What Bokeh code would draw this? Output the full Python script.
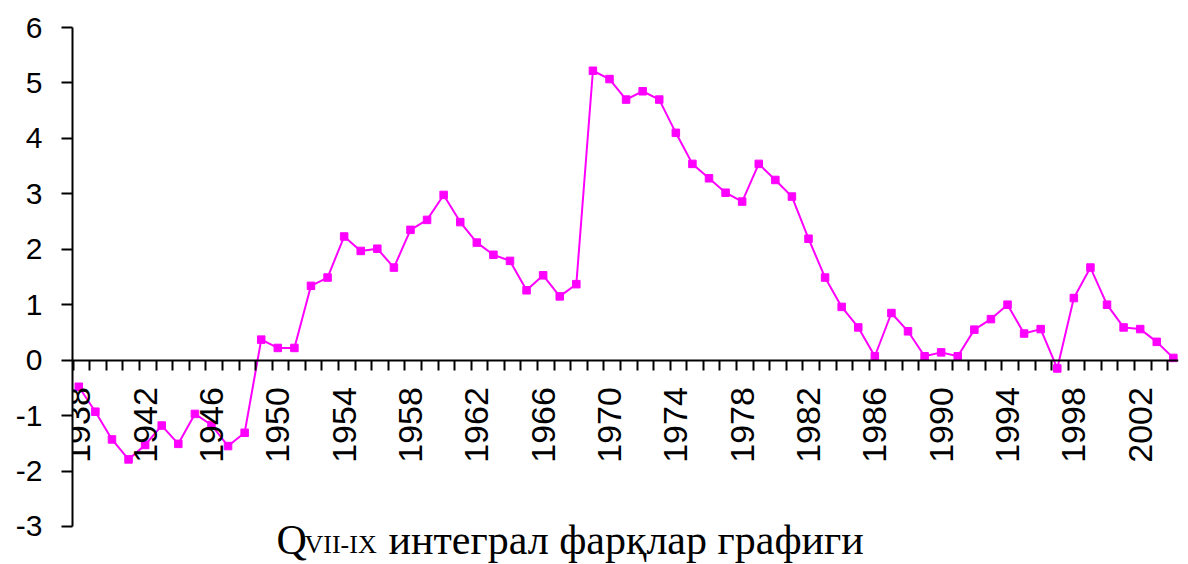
import math
from bokeh.plotting import figure
from bokeh.models import FixedTicker, Range1d, Label, ColumnDataSource
from bokeh.embed import file_html
from bokeh.resources import INLINE

# ---- data ----
years = list(range(1938, 2005))
values = [-0.48, -0.93, -1.43, -1.79, -1.53, -1.18, -1.51, -0.97, -1.17, -1.55, -1.31,
          0.37, 0.22, 0.22, 1.34, 1.49, 2.23, 1.97, 2.01, 1.67, 2.35, 2.53, 2.98, 2.49,
          2.12, 1.90, 1.79, 1.26, 1.53, 1.15, 1.37,
          5.22, 5.07, 4.70, 4.85, 4.70, 4.10, 3.54, 3.28, 3.02, 2.86, 3.54, 3.25, 2.95,
          2.19, 1.49, 0.96, 0.59, 0.07,
          0.85, 0.52, 0.07, 0.14, 0.07, 0.55, 0.74, 1.00, 0.48, 0.56, -0.15, 1.12, 1.67,
          1.00, 0.59, 0.56, 0.33, 0.04]
label_years = list(range(1938, 2004, 4))
y_ticks = [-3, -2, -1, 0, 1, 2, 3, 4, 5, 6]
y_tick_labels = {t: str(t) for t in y_ticks}   # plain hyphen as in the original
title_q = "Q"
title_sub = "VII-IX"
title_rest = "интеграл фарқлар графиги"

# ---- layout constants ----
W, H = 1188, 564
FL, FR, FT, FB = 72, 10, 27, 0          # frame borders (canvas px)
fw = W - FL - FR
fh = H - FT - FB
X0 = years[0] - 0.38
X1 = years[-1] + 0.31
Y1 = y_ticks[-1]
ppu = 55.44                              # pixels per y unit
Y0 = Y1 - fh / ppu                       # extra room below -3 for the caption

def dx(canvas_px):
    return X0 + (canvas_px - FL) / fw * (X1 - X0)

def dy(canvas_py):
    return Y1 - (canvas_py - FT) / ppu

p = figure(width=W, height=H, output_backend="svg", toolbar_location=None,
           x_range=Range1d(X0, X1), y_range=Range1d(Y0, Y1),
           min_border_left=FL, min_border_right=FR, min_border_top=FT,
           min_border_bottom=FB)
p.outline_line_color = None
p.xgrid.grid_line_color = None
p.ygrid.grid_line_color = None
p.background_fill_color = "white"
p.border_fill_color = "white"

src = ColumnDataSource(dict(x=years, y=values))
p.line("x", "y", source=src, line_color="#FF00FF", line_width=2)
p.scatter("x", "y", source=src, marker="square", size=7.5,
          fill_color="#FF00FF", line_color="#FF00FF")

# x axis at y = 0
xa = p.xaxis[0]
xa.fixed_location = 0
xa.ticker = FixedTicker(ticks=label_years, minor_ticks=[y - 0.34 for y in years])
xa.major_tick_out = 0
xa.major_tick_in = 0
xa.minor_tick_out = 10
xa.minor_tick_in = 0
xa.minor_tick_line_color = "black"
xa.minor_tick_line_width = 2
xa.axis_line_color = "black"
xa.axis_line_width = 2
xa.major_label_orientation = math.pi / 2
xa.major_label_text_font = "Liberation Sans"
xa.major_label_text_font_size = "34px"
xa.major_label_text_color = "black"
xa.major_label_standoff = 17

ya = p.yaxis[0]
ya.ticker = FixedTicker(ticks=y_ticks)
ya.major_label_overrides = y_tick_labels
ya.bounds = (y_ticks[0], y_ticks[-1])
ya.major_tick_out = 11
ya.major_tick_in = 0
ya.major_tick_line_width = 2
ya.major_tick_line_color = "black"
ya.minor_tick_line_color = None
ya.axis_line_color = "black"
ya.axis_line_width = 2
ya.major_label_text_font = "Liberation Sans"
ya.major_label_text_font_size = "30px"
ya.major_label_text_color = "black"
ya.major_label_standoff = 19

# caption below (with subscript)
bottom = 562
p.add_layout(Label(x=dx(276), y=dy(bottom), text=title_q, text_font="Liberation Serif",
                   text_font_size="42px", text_baseline="bottom", text_color="black"))
p.add_layout(Label(x=dx(304), y=dy(bottom - 4), text=title_sub, text_font="Liberation Serif",
                   text_font_size="26px", text_baseline="bottom", text_color="black"))
p.add_layout(Label(x=dx(388), y=dy(bottom), text=title_rest, text_font="Liberation Serif",
                   text_font_size="42px", text_baseline="bottom", text_color="black"))

open("out.html", "w").write(file_html(p, INLINE))
